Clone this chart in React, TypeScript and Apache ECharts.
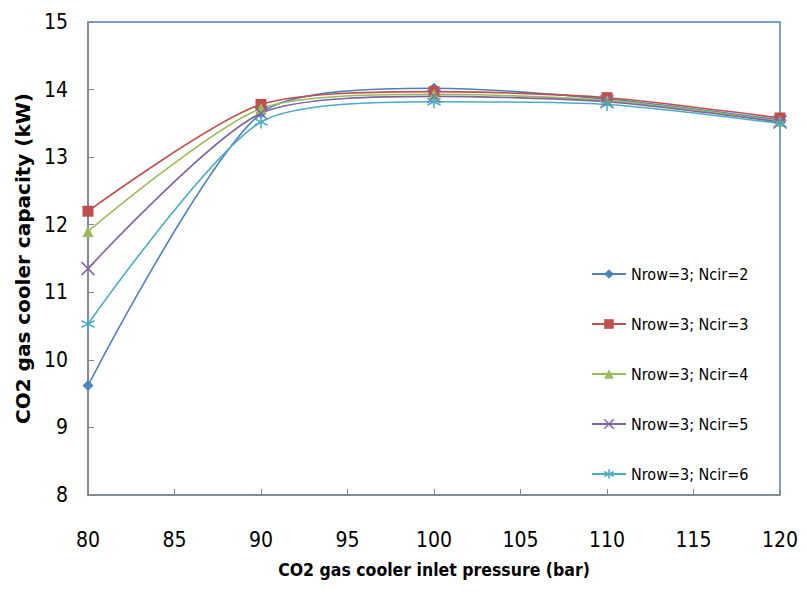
import React, { useEffect, useRef } from "react";
import * as echarts from "echarts";

const pressures = [80, 90, 100, 110, 120];
const seriesNames = ["Nrow=3; Ncir=2", "Nrow=3; Ncir=3", "Nrow=3; Ncir=4", "Nrow=3; Ncir=5", "Nrow=3; Ncir=6"];
const ncir2 = [9.62, 13.65, 14.02, 13.86, 13.55];
const ncir3 = [12.2, 13.78, 13.97, 13.88, 13.58];
const ncir4 = [11.9, 13.72, 13.93, 13.84, 13.53];
const ncir5 = [11.35, 13.65, 13.9, 13.82, 13.52];
const ncir6 = [10.53, 13.52, 13.82, 13.78, 13.5];
const colors = ["#4F81BD", "#C0504D", "#9BBB59", "#8064A2", "#4BACC6"];

const xSym = "path://M0,0L10,10M10,0L0,10";
const starSym = "path://M5,0L5,10M0,2.5L10,7.5M10,2.5L0,7.5";
const symbols = ["diamond", "rect", "triangle", xSym, starSym];
const symbolSizes = [11, 11, 11, 13, 13];
const narrow = "DejaVu Sans Condensed, Lato, sans-serif";

export default function App() {
  const ref = useRef<HTMLDivElement>(null);
  useEffect(() => {
    const chart = echarts.init(ref.current!, null, { renderer: "svg" });
    const all = [ncir2, ncir3, ncir4, ncir5, ncir6];
    const series = all.map((vals, i) => {
      const stroke = i >= 3;
      return {
        name: seriesNames[i],
        type: "line",
        smooth: 0.25,
        data: vals.map((v, j) => [pressures[j], v]),
        symbol: symbols[i],
        symbolSize: symbolSizes[i],
        showAllSymbol: true,
        lineStyle: { color: colors[i], width: 1.6 },
        itemStyle: stroke
          ? { color: "rgba(0,0,0,0)", borderColor: colors[i], borderWidth: 1.5 }
          : { color: colors[i], borderColor: colors[i], borderWidth: 0 },
        emphasis: { disabled: true },
      };
    });
    chart.setOption({
      animation: false,
      backgroundColor: "#ffffff",
      grid: {
        left: 88,
        right: 27,
        top: 22,
        bottom: 97,
        show: true,
        borderColor: "#4F81BD",
        borderWidth: 1.5,
        backgroundColor: "transparent",
      },
      legend: {
        orient: "vertical",
        left: 586,
        top: 261,
        itemWidth: 34,
        itemHeight: 12,
        itemGap: 34,
        data: seriesNames.map((n, i) => ({
          name: n,
          itemStyle: i >= 3
            ? { color: "rgba(0,0,0,0)", borderColor: colors[i], borderWidth: 1.5 }
            : { color: colors[i] },
        })),
        textStyle: { fontFamily: narrow, fontSize: 16, color: "#000" },
      },
      xAxis: {
        type: "value",
        min: 80,
        max: 120,
        interval: 5,
        name: "CO2 gas cooler inlet pressure (bar)",
        nameLocation: "middle",
        nameGap: 66,
        nameTextStyle: { fontFamily: narrow, fontSize: 17.5, fontWeight: "bold", color: "#000" },
        axisLine: { lineStyle: { color: "#868686", width: 1.5 } },
        axisTick: { inside: true, length: 6, lineStyle: { color: "#868686" } },
        axisLabel: { margin: 34, fontFamily: narrow, fontSize: 21, color: "#000" },
        splitLine: { show: false },
      },
      yAxis: {
        type: "value",
        min: 8,
        max: 15,
        interval: 1,
        name: "CO2 gas cooler capacity (kW)",
        nameLocation: "middle",
        nameGap: 54,
        nameTextStyle: { fontFamily: "DejaVu Sans, sans-serif", fontSize: 20, fontWeight: "bold", color: "#000" },
        axisLine: { show: true, lineStyle: { color: "#868686", width: 1.5 } },
        axisTick: { show: true, inside: true, length: 6, lineStyle: { color: "#868686" } },
        axisLabel: { margin: 20, fontFamily: narrow, fontSize: 21, color: "#000" },
        splitLine: { show: false },
      },
      series,
    } as any);
    return () => chart.dispose();
  }, []);
  return <div ref={ref} style={{ width: 807, height: 592, position: "absolute", left: 0, top: 0 }} />;
}
